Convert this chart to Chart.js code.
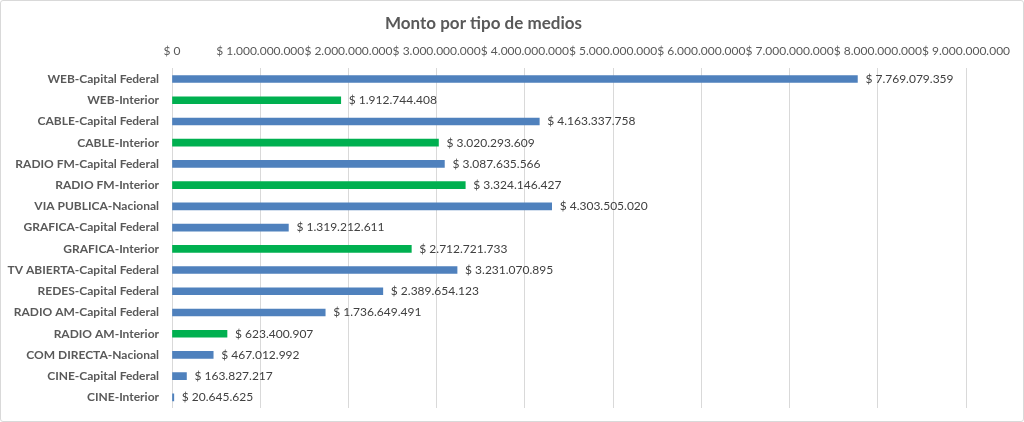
<!DOCTYPE html>
<html>
<head>
<meta charset="utf-8">
<script src="https://cdn.jsdelivr.net/npm/chart.js@4/dist/chart.umd.min.js"></script>
<style>
	html, body { margin: 0; padding: 0; background: #fff; }
	.grafico { box-sizing: border-box; width: 1024px; height: 422px; border: 1px solid #d9d9d9; border-radius: 3px; }
</style>
</head>
<body>
<div class="grafico"><canvas id="graficoMontoPorMedio" width="1022" height="420"></canvas></div>
<script>
var medios = ['WEB-Capital Federal', 'WEB-Interior', 'CABLE-Capital Federal', 'CABLE-Interior',
	'RADIO FM-Capital Federal', 'RADIO FM-Interior', 'VIA PUBLICA-Nacional', 'GRAFICA-Capital Federal',
	'GRAFICA-Interior', 'TV ABIERTA-Capital Federal', 'REDES-Capital Federal', 'RADIO AM-Capital Federal',
	'RADIO AM-Interior', 'COM DIRECTA-Nacional', 'CINE-Capital Federal', 'CINE-Interior'];
var montos = [7769079359, 1912744408, 4163337758, 3020293609,
	3087635566, 3324146427, 4303505020, 1319212611,
	2712721733, 3231070895, 2389654123, 1736649491,
	623400907, 467012992, 163827217, 20645625];
var mediosDestacados = ['WEB-Interior', 'CABLE-Interior', 'RADIO FM-Interior', 'GRAFICA-Interior', 'RADIO AM-Interior'];
var ejeMinimo = 0;
var ejeMaximo = 9000000000;
var ejePaso = 1000000000;

var UsBase = UsBase || {};

UsBase.formataPesos = function(valor) {
	return '$ ' + Math.round(valor).toString().replace(/\B(?=(\d{3})+(?!\d))/g, '.');
};

UsBase.GraficoMontoPorMedio = (function() {

	function GraficoMontoPorMedio() {
		this.ctx = document.getElementById('graficoMontoPorMedio').getContext('2d');
	}

	GraficoMontoPorMedio.prototype.iniciar = function() {
		var colores = medios.map(function(m) {
			return mediosDestacados.indexOf(m) >= 0 ? '#00b050' : '#4f81bd';
		});

		// etiquetas de valor al final de cada barra
		var etiquetas = {
			id: 'etiquetas',
			afterDatasetsDraw: function(chart) {
				var c = chart.ctx;
				c.save();
				c.font = '12px Lato';
				c.fillStyle = '#404040';
				c.textBaseline = 'middle';
				c.textAlign = 'left';
				chart.getDatasetMeta(0).data.forEach(function(barra, i) {
					c.fillText(UsBase.formataPesos(montos[i]), barra.x + 8, barra.y);
				});
				c.restore();
			}
		};

		new Chart(this.ctx, {
			type: 'bar',
			data: {
				labels: medios,
				datasets: [{
					data: montos,
					backgroundColor: colores,
					barThickness: 7
				}]
			},
			options: {
				indexAxis: 'y',
				responsive: false,
				animation: false,
				layout: { padding: { left: 0, right: 57, top: 0, bottom: 13 } },
				plugins: {
					legend: { display: false },
					tooltip: { enabled: false },
					title: {
						display: true,
						text: 'Monto por tipo de medios',
						color: '#595959',
						font: { family: 'Lato', size: 17, weight: 'bold' },
						padding: { top: 12, bottom: 3 }
					}
				},
				scales: {
					x: {
						position: 'top',
						min: ejeMinimo,
						max: ejeMaximo,
						afterFit: function(eje) { eje.height = 32; },
						ticks: {
							stepSize: ejePaso,
							maxRotation: 0,
							autoSkip: false,
							padding: 10,
							color: '#595959',
							font: { family: 'Lato', size: 12 },
							callback: function(v) { return UsBase.formataPesos(v); }
						},
						grid: { color: '#d9d9d9', drawTicks: false },
						border: { display: false }
					},
					y: {
						afterFit: function(eje) {
							eje.width = 171;
							eje.paddingTop = 0;
							eje.paddingBottom = 0;
						},
						ticks: {
							padding: 13,
							color: '#595959',
							font: { family: 'Lato', size: 12, weight: 'bold' }
						},
						grid: { display: false, drawTicks: false },
						border: { display: false }
					}
				}
			},
			plugins: [etiquetas]
		});
	};

	return GraficoMontoPorMedio;

}());

var graficoMontoPorMedio = new UsBase.GraficoMontoPorMedio();
graficoMontoPorMedio.iniciar();
</script>
</body>
</html>
